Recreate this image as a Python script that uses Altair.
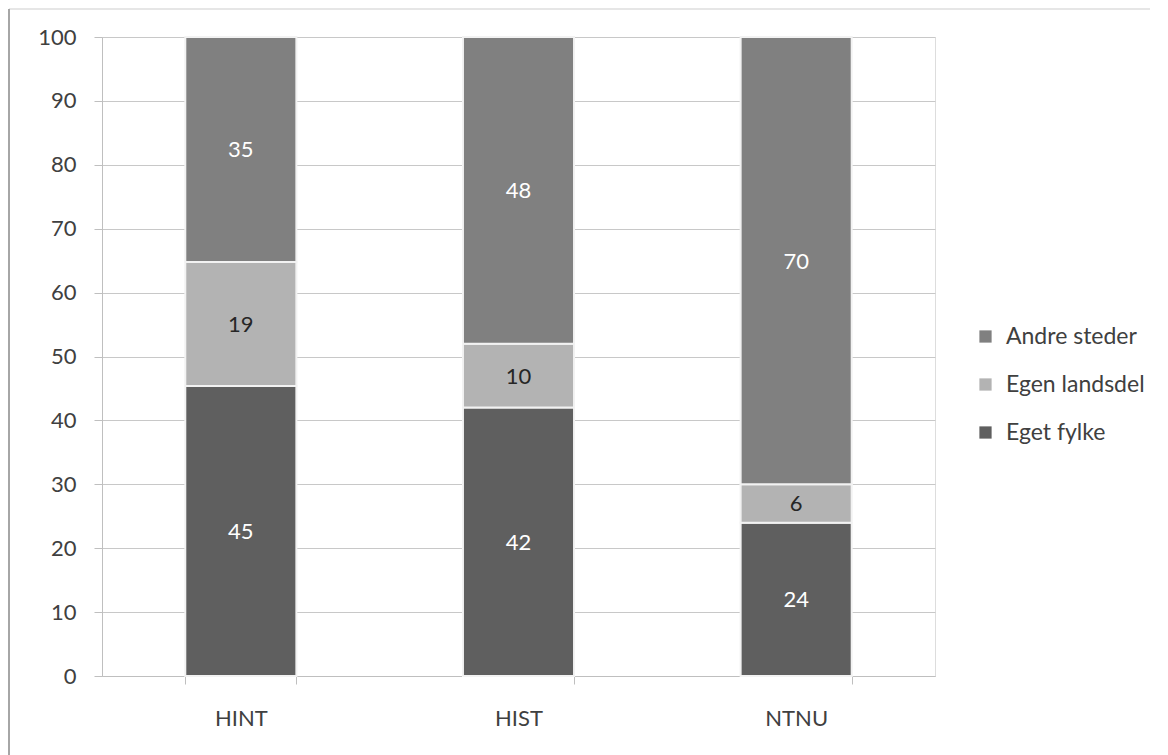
import altair as alt
import pandas as pd

schools = ["HINT", "HIST", "NTNU"]
categories = ["Eget fylke", "Egen landsdel", "Andre steder"]
eget_fylke = [45.4, 42.0, 24.0]
egen_landsdel = [19.4, 10.0, 6.0]
andre_steder = [35.2, 48.0, 70.0]
colors = ["#5f5f5f", "#b3b3b3", "#808080"]
label_colors = ["#ffffff", "#262626", "#ffffff"]

rows = []
for i, s in enumerate(schools):
    for j, (c, vals) in enumerate(zip(categories, [eget_fylke, egen_landsdel, andre_steder])):
        rows.append({"school": s, "cat": c, "value": vals[i], "order": j, "lc": label_colors[j]})
df = pd.DataFrame(rows)

FONT = "Lato"
W, H = 833, 639
FS = 22

base = alt.Chart(df).transform_stack(
    stack="value", groupby=["school"], as_=["y0", "y1"], sort=[alt.SortField("order")]
).transform_calculate(mid="(datum.y0 + datum.y1) / 2")

xenc = alt.X("school:N", sort=schools, title=None,
             scale=alt.Scale(paddingInner=0.6, paddingOuter=0.3),
             axis=alt.Axis(labelAngle=0, labelFontSize=FS, labelColor="#404040", labelFont=FONT,
                           tickBand="extent", tickSize=8, tickColor="#bfbfbf", domainColor="#bfbfbf",
                           labelPadding=24, grid=False))

bars = base.mark_bar(stroke="#f2f2f2", strokeWidth=2).encode(
    x=xenc,
    y=alt.Y("y0:Q", scale=alt.Scale(domain=[0, 100]), title=None,
            axis=alt.Axis(values=list(range(0, 101, 10)), labelFontSize=FS, labelColor="#404040",
                          labelFont=FONT, tickSize=8, tickColor="#bfbfbf", domainColor="#bfbfbf",
                          gridColor="#c8c8c8", labelPadding=18)),
    y2="y1:Q",
    color=alt.Color("cat:N", scale=alt.Scale(domain=categories[::-1], range=colors[::-1]),
                    legend=alt.Legend(title=None, orient="none", legendX=872, legendY=288,
                                      symbolType="square", symbolSize=150, labelFontSize=23,
                                      labelFont=FONT, labelColor="#404040", rowPadding=24,
                                      symbolStrokeWidth=0, labelOffset=9)),
)

texts = base.mark_text(fontSize=FS, font=FONT, dy=1).encode(
    x=alt.X("school:N", sort=schools),
    y=alt.Y("mid:Q"),
    text=alt.Text("value:Q", format=".0f"),
    color=alt.Color("lc:N", scale=None, legend=None),
)

frame_df = pd.DataFrame({"k": [0]})
left_line = alt.Chart(frame_df).mark_rule(color="#a6a6a6", strokeWidth=2).encode(
    x=alt.value(-93), y=alt.value(-28), y2=alt.value(H + 80))
top_line = alt.Chart(frame_df).mark_rule(color="#e6e6e6", strokeWidth=2).encode(
    x=alt.value(-93), x2=alt.value(1048), y=alt.value(-28))

chart = alt.layer(top_line, left_line, bars, texts).properties(width=W, height=H).configure_view(
    stroke=None
).configure(background="white", padding=0)

chart.save("out.html", embed_options={"renderer": "svg", "actions": False})
